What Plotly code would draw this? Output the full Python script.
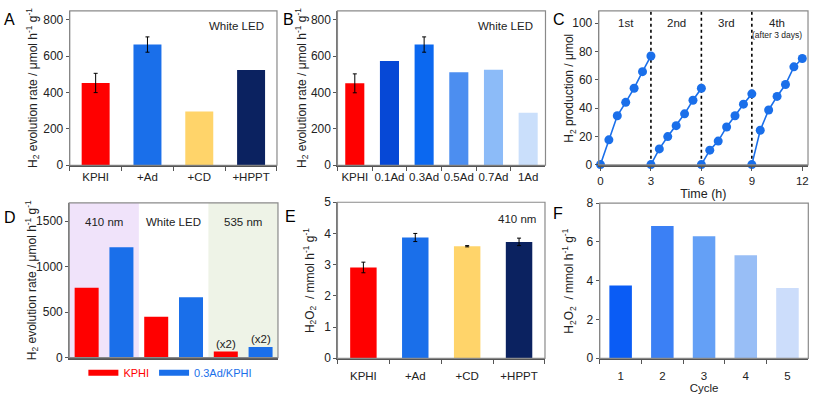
import plotly.graph_objects as go

W, H = 813, 401

# ---------------- data ----------------
a_cats = ["KPHI", "+Ad", "+CD", "+HPPT"]
a_vals = [452, 663, 295, 523]
a_errs = [53, 42, None, None]
a_colors = ["#FF0000", "#1A6FEA", "#FFD46A", "#0B2260"]

b_cats = ["KPHI", "0.1Ad", "0.3Ad", "0.5Ad", "0.7Ad", "1Ad"]
b_vals = [450, 573, 663, 511, 525, 289]
b_errs = [52, None, 42, None, None, None]
b_colors = ["#FF0000", "#0648D6", "#0B68F0", "#4C8EF0", "#8CBBF8", "#CADFFB"]

c_cycles = [
    ([0, 0.5, 1, 1.5, 2, 2.5, 3], [0, 17.5, 34.5, 44, 54, 65.7, 76.8]),
    ([3, 3.5, 4, 4.5, 5, 5.5, 6], [0, 11.1, 19.8, 27.5, 35.9, 45.5, 54]),
    ([6, 6.5, 7, 7.5, 8, 8.5, 9], [0, 10.2, 16.6, 26.6, 34.5, 42.7, 50]),
    ([9, 9.5, 10, 10.5, 11, 11.5, 12], [0, 24.3, 38.6, 48.2, 56.6, 69.1, 75]),
]
c_labels = ["1st", "2nd", "3rd", "4th"]
c_label_x = [1.5, 4.5, 7.5, 10.5]
c_breaks = [3, 6, 9]

d_groups = ["410 nm", "White LED", "535 nm"]
d_kphi = [769, 450, 67]
d_ad = [1213, 663, 117]
d_notes = ["", "", "(x2)"]

e_cats = ["KPHI", "+Ad", "+CD", "+HPPT"]
e_vals = [2.91, 3.87, 3.59, 3.73]
e_errs = [0.17, 0.13, 0.02, 0.12]

f_cats = ["1", "2", "3", "4", "5"]
f_vals = [3.75, 6.82, 6.29, 5.31, 3.63]
f_colors = ["#0A5CF5", "#3B80F5", "#64A0F6", "#98BEF6", "#CCDDFB"]

# ---------------- layout helpers ----------------
def dx(p0, p1):
    return [p0 / W, p1 / W]

def dy(top, bottom):
    return [1 - bottom / H, 1 - top / H]

FONT = "Liberation Sans, Arial, sans-serif"
TICKC = "#555555"

fig = go.Figure()


def bars_with_errors(cats, vals, errs, colors, width, xa, ya):
    """Bars with error bars only where an error value exists."""
    with_e = [i for i, e in enumerate(errs) if e is not None]
    without = [i for i, e in enumerate(errs) if e is None]
    if with_e:
        fig.add_trace(go.Bar(x=[cats[i] for i in with_e], y=[vals[i] for i in with_e],
                             marker=dict(color=[colors[i] for i in with_e], line=dict(width=0)),
                             width=width,
                             error_y=dict(type="data", array=[errs[i] for i in with_e],
                                          color="black", thickness=1, width=2),
                             xaxis=xa, yaxis=ya, showlegend=False))
    if without:
        fig.add_trace(go.Bar(x=[cats[i] for i in without], y=[vals[i] for i in without],
                             marker=dict(color=[colors[i] for i in without], line=dict(width=0)),
                             width=width, xaxis=xa, yaxis=ya, showlegend=False))


# Panel A
bars_with_errors(a_cats, a_vals, a_errs, a_colors, 0.54, "x", "y")
# Panel B
bars_with_errors(b_cats, b_vals, b_errs, b_colors, 0.55, "x2", "y2")
# Panel C
for xs, ys in c_cycles:
    fig.add_trace(go.Scatter(x=xs, y=ys, mode="lines+markers",
                             line=dict(color="#1A6FEA", width=1.6),
                             marker=dict(color="#1A6FEA", size=9),
                             cliponaxis=False, xaxis="x3", yaxis="y3", showlegend=False))
# Panel D
kx = [2 * i for i in range(len(d_groups))]
ax_ = [2 * i + 1 for i in range(len(d_groups))]
fig.add_trace(go.Bar(x=kx, y=d_kphi, marker=dict(color="#FF0000", line=dict(width=0)), width=0.69,
                     xaxis="x4", yaxis="y4", showlegend=False))
fig.add_trace(go.Bar(x=ax_, y=d_ad, marker=dict(color="#1A6FEA", line=dict(width=0)), width=0.69,
                     xaxis="x4", yaxis="y4", showlegend=False))
fig.add_trace(go.Scatter(x=[None], y=[None], mode="lines", line=dict(color="#FF0000", width=6),
                         name='<span style="color:#FF0000">KPHI</span>', xaxis="x4", yaxis="y4"))
fig.add_trace(go.Scatter(x=[None], y=[None], mode="lines", line=dict(color="#1A6FEA", width=6),
                         name='<span style="color:#1A6FEA">0.3Ad/KPHI</span>', xaxis="x4", yaxis="y4"))
# Panel E
bars_with_errors(e_cats, e_vals, e_errs, a_colors, 0.51, "x5", "y5")
# Panel F
fig.add_trace(go.Bar(x=f_cats, y=f_vals, marker=dict(color=f_colors, line=dict(width=0)), width=0.54,
                     xaxis="x6", yaxis="y6", showlegend=False))

tickfont = dict(family=FONT, size=11.5, color="#222")
ytickfont = dict(family=FONT, size=12, color="#222")

def xax(domain, anchor, **kw):
    d = dict(domain=domain, anchor=anchor, showline=True, linecolor="#555", linewidth=2,
             ticks="outside", ticklen=4, tickcolor=TICKC, tickfont=tickfont, showgrid=False,
             zeroline=False, fixedrange=True, tickangle=0)
    d.update(kw)
    return d

def yax(domain, anchor, **kw):
    d = dict(domain=domain, anchor=anchor, showline=True, linecolor="#777", linewidth=1.2,
             ticks="outside", ticklen=3, tickcolor=TICKC, tickfont=ytickfont, showgrid=False,
             zeroline=False, fixedrange=True)
    d.update(kw)
    return d

layout = dict(
    width=W, height=H, margin=dict(l=0, r=0, t=0, b=0),
    paper_bgcolor="white", plot_bgcolor="rgba(0,0,0,0)",
    font=dict(family=FONT, size=12, color="#222"),
    barmode="overlay",
    xaxis=xax(dx(68, 276), "y", tickson="boundaries", type="category",
              categoryorder="array", categoryarray=a_cats),
    yaxis=yax(dy(4, 164), "x", range=[0, 848], dtick=200),
    xaxis2=xax(dx(336.7, 545.5), "y2", tickson="boundaries", type="category",
               categoryorder="array", categoryarray=b_cats),
    yaxis2=yax(dy(4, 164), "x2", range=[0, 848], dtick=200),
    xaxis3=xax(dx(599, 809), "y3", range=[-0.1, 12.34], tickvals=[0, 3, 6, 9, 12],
               title=dict(text="Time (h)", font=dict(family=FONT, size=12.5, color="#222"), standoff=4)),
    yaxis3=yax(dy(4, 163.5), "x3", range=[-0.15, 108.7], dtick=20),
    xaxis4=xax(dx(67.5, 277), "y4", range=[-0.5, 5.5], showticklabels=False, ticks=""),
    yaxis4=yax(dy(203, 363.3), "x4", range=[0, 1700], tickvals=[0, 500, 1000, 1500]),
    xaxis5=xax(dx(336.7, 545), "y5", tickson="boundaries", type="category", ticklen=4,
               ticklabelstandoff=6, categoryorder="array", categoryarray=e_cats),
    yaxis5=yax(dy(202.3, 364), "x5", range=[0, 5], dtick=1),
    xaxis6=xax(dx(600, 809.3), "y6", tickson="boundaries", type="category", ticklen=4,
               ticklabelstandoff=6,
               title=dict(text="Cycle", font=dict(family=FONT, size=11.5, color="#222"), standoff=3)),
    yaxis6=yax(dy(203.3, 364), "x6", range=[0, 8], dtick=2),
    legend=dict(orientation="h", x=169 / W, xanchor="center", y=1 - 379 / H, yanchor="middle",
                font=dict(family=FONT, size=11), bgcolor="rgba(0,0,0,0)", itemwidth=30,
                tracegroupgap=0),
)
fig.update_layout(**layout)

shapes = []
# frames
for i in ["", "2", "3", "4", "5", "6"]:
    shapes.append(dict(type="rect", xref=f"x{i} domain", yref=f"y{i} domain", x0=0, x1=1, y0=0, y1=1,
                       line=dict(color="#8a8a8a", width=1.2), layer="above"))
# panel D shaded regions
shapes.append(dict(type="rect", xref="x4", yref="y4 domain", x0=-0.5, x1=1.5, y0=0, y1=1,
                   fillcolor="#F0E3FA", line=dict(width=0), layer="below"))
shapes.append(dict(type="rect", xref="x4", yref="y4 domain", x0=3.5, x1=5.5, y0=0, y1=1,
                   fillcolor="#EEF3E7", line=dict(width=0), layer="below"))
# panel C dotted separators
for b in c_breaks:
    shapes.append(dict(type="line", xref="x3", yref="y3 domain", x0=b, x1=b, y0=0, y1=1,
                       line=dict(color="black", width=1.6, dash="dot"), layer="below"))
fig.update_layout(shapes=shapes)

ann = []
def letter(t, xp, yp):
    ann.append(dict(text=t, x=xp / W, y=1 - yp / H, xref="paper", yref="paper", showarrow=False,
                    xanchor="center", yanchor="middle", font=dict(family=FONT, size=16, color="black")))
letter("A", 8, 13); letter("B", 288, 13); letter("C", 559, 13)
letter("D", 8, 218); letter("E", 290, 217); letter("F", 558, 214)

def ytitle(t, xp, top, bottom):
    ann.append(dict(text=t, x=xp / W, y=1 - (top + bottom) / 2 / H, xref="paper", yref="paper",
                    showarrow=False, textangle=-90, xanchor="center", yanchor="middle",
                    font=dict(family=FONT, size=12, color="#222")))
h2rate = "H<sub>2</sub> evolution rate / μmol h<sup>-1</sup> g<sup>-1</sup>"
ytitle(h2rate, 31, 4, 164)
ytitle(h2rate, 301, 4, 164)
ytitle("H<sub>2</sub> production / μmol", 570, 4, 163.5)
ytitle(h2rate, 30, 203, 363.3)
ytitle("H<sub>2</sub>O<sub>2</sub>  / mmol h<sup>-1</sup> g<sup>-1</sup>", 309, 202.3, 364)
ytitle("H<sub>2</sub>O<sub>2</sub>  / mmol h<sup>-1</sup> g<sup>-1</sup>", 569, 203.3, 364)

def note(t, xref, yref, x, y, size=11.5):
    ann.append(dict(text=t, x=x, y=y, xref=xref, yref=yref, showarrow=False, xanchor="center",
                    yanchor="middle", font=dict(family=FONT, size=size, color="#222")))
note("White LED", "x domain", "y domain", 0.803, 0.9)
note("White LED", "x2 domain", "y2 domain", 0.81, 0.9)
note("410 nm", "x5 domain", "y5 domain", 0.865, 0.895)
for lbl, xv in zip(c_labels, c_label_x):
    note(lbl, "x3", "y3", xv, 100, size=11.5)
note("(after 3 days)", "x3", "y3", c_label_x[3], 91.4, size=8.5)
for i, g in enumerate(d_groups):
    note(g, "x4", "y4 domain", 2 * i + 0.5, 0.878)
    if d_notes[i]:
        for xv, yv in ((2 * i, d_kphi[i]), (2 * i + 1, d_ad[i])):
            ann.append(dict(text=d_notes[i], x=xv, y=yv, xref="x4", yref="y4", showarrow=False,
                            xanchor="center", yanchor="bottom", yshift=0,
                            font=dict(family=FONT, size=11.5, color="#222")))
fig.update_layout(annotations=ann)

fig.write_html("out.html")
